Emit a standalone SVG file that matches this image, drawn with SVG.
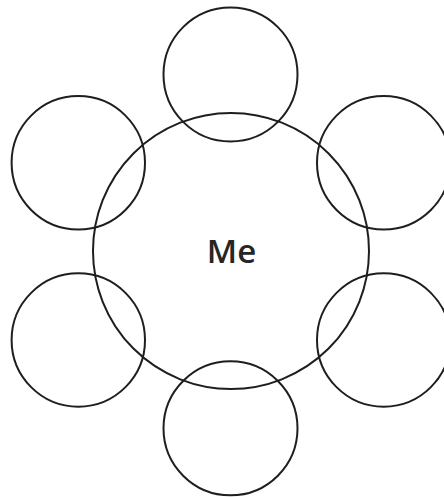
<svg xmlns="http://www.w3.org/2000/svg" width="444" height="497" viewBox="0 0 444 497">
<style>
.c{fill:none;stroke:#1e1e1e;stroke-width:2}
.t{font-family:"Open Sans","Liberation Sans",sans-serif;font-size:33px;font-weight:600;fill:#262626;text-anchor:middle}
</style>
<rect width="444" height="497" fill="#fff"/>
<g id="me"><circle class="c" cx="231" cy="251" r="138"/><text class="t" x="231.5" y="263">Me</text></g>
<g id="top"><circle class="c" cx="230.5" cy="74.5" r="67"/></g>
<g id="top-left"><circle class="c" cx="78.3" cy="162.8" r="66.7"/></g>
<g id="top-right"><circle class="c" cx="383.7" cy="162.8" r="66.7"/></g>
<g id="bottom-left"><circle class="c" cx="78.3" cy="340" r="66.7"/></g>
<g id="bottom-right"><circle class="c" cx="383.7" cy="340" r="66.7"/></g>
<g id="bottom"><circle class="c" cx="230.5" cy="428.3" r="67"/></g>
<g id="connectors"/>
</svg>
